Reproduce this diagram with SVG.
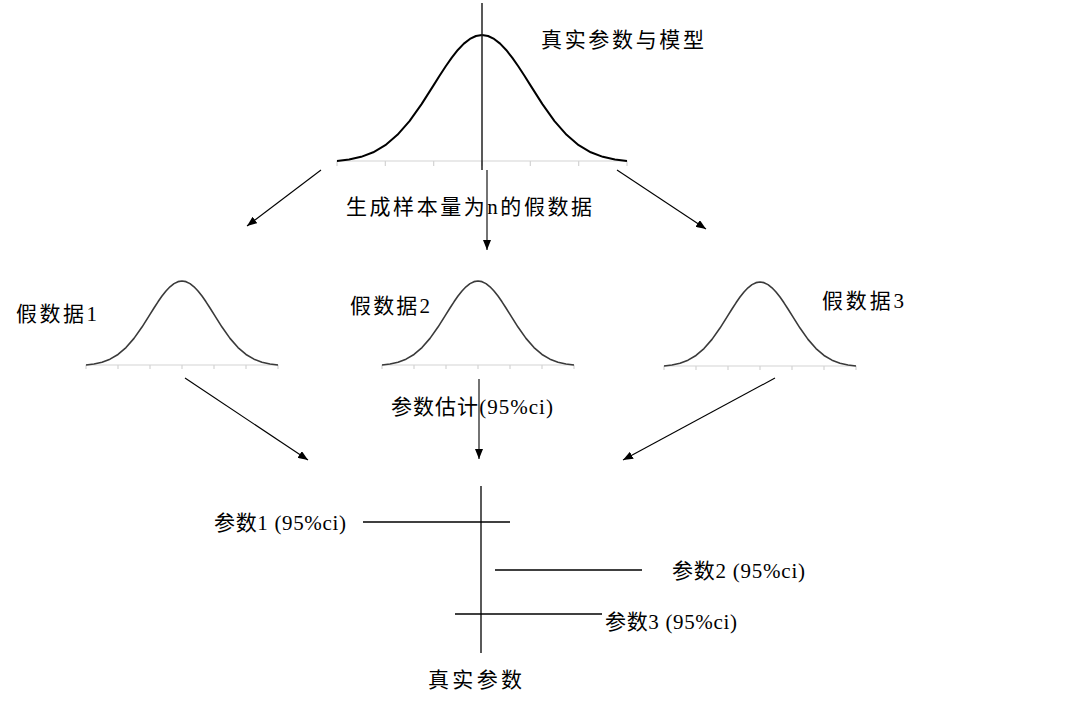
<svg xmlns="http://www.w3.org/2000/svg" xmlns:xlink="http://www.w3.org/1999/xlink" width="1075" height="707" viewBox="0 0 1075 707">
  <style>
    .t { font-family: "Liberation Serif", "Noto Sans CJK SC", serif; font-size: 21px; fill: #000; }
    .axis { stroke: #d4d4d4; stroke-width: 1.2; fill: none; }
    .curve { stroke: #3a3a3a; stroke-width: 1.6; fill: none; stroke-linejoin: round; }
    .curveTop { stroke: #000; stroke-width: 2; fill: none; stroke-linejoin: round; }
    .conn { stroke: #000; stroke-width: 1.1; fill: none; }
    .ln { stroke: #000; stroke-width: 1.3; fill: none; }
  </style>
  <defs>
    <marker id="arr" markerUnits="userSpaceOnUse" viewBox="0 0 10 8" markerWidth="10" markerHeight="8" refX="10" refY="4" orient="auto">
      <path d="M0,0 L10,4 L0,8 z" fill="#000"/>
    </marker>
    <path id="bell" d="M-96,0 L-88,-0.99 L-80,-2.79 L-72,-5.82 L-64,-10.55 L-56,-17.43 L-48,-26.64 L-40,-37.94 L-32,-50.58 L-28,-56.98 L-24,-63.17 L-20,-68.93 L-16,-74.02 L-12,-78.23 L-8,-81.38 L-4,-83.34 L0,-84 L4,-83.34 L8,-81.38 L12,-78.23 L16,-74.02 L20,-68.93 L24,-63.17 L28,-56.98 L32,-50.58 L40,-37.94 L48,-26.64 L56,-17.43 L64,-10.55 L72,-5.82 L80,-2.79 L88,-0.99 L96,0"/>
    <path id="smallAxis" d="M-96,0 H96 M-96,0 v4 M-64,0 v4 M-32,0 v4 M0,0 v4 M32,0 v4 M64,0 v4 M96,0 v4"/>
  </defs>

  <g id="true-model">
    <path class="axis" d="M337,161 H627 M337,161 v5 M385.33,161 v5 M433.67,161 v5 M482,161 v5 M530.33,161 v5 M578.67,161 v5 M627,161 v5"/>
    <path class="curveTop" d="M337,161 L349.08,159.51 L361.17,156.82 L373.25,152.27 L385.33,145.17 L397.42,134.85 L409.5,121.05 L421.58,104.09 L433.67,85.14 L439.71,75.53 L445.75,66.25 L451.79,57.61 L457.83,49.97 L463.88,43.65 L469.92,38.93 L475.96,35.99 L482,35 L488.04,35.99 L494.08,38.93 L500.12,43.65 L506.17,49.97 L512.21,57.61 L518.25,66.25 L524.29,75.53 L530.33,85.14 L542.42,104.09 L554.5,121.05 L566.58,134.85 L578.67,145.17 L590.75,152.27 L602.83,156.82 L614.92,159.51 L627,161"/>
    <line x1="482" y1="3" x2="482" y2="170" stroke="#222" stroke-width="1.5"/>
    <text class="t" x="541" y="47" textLength="163" lengthAdjust="spacing">真实参数与模型</text>
  </g>

  <g id="fake-data-1">
    <use href="#smallAxis" xlink:href="#smallAxis" class="axis" x="182" y="365"/>
    <use href="#bell" xlink:href="#bell" class="curve" x="182" y="365"/>
    <text class="t" x="16" y="321" textLength="81" lengthAdjust="spacing">假数据1</text>
  </g>

  <g id="fake-data-2">
    <use href="#smallAxis" xlink:href="#smallAxis" class="axis" x="478" y="365"/>
    <use href="#bell" xlink:href="#bell" class="curve" x="478" y="365"/>
    <text class="t" x="350" y="313" textLength="80" lengthAdjust="spacing">假数据2</text>
  </g>

  <g id="fake-data-3">
    <use href="#smallAxis" xlink:href="#smallAxis" class="axis" x="760" y="366"/>
    <use href="#bell" xlink:href="#bell" class="curve" x="760" y="366"/>
    <text class="t" x="822" y="308" textLength="82" lengthAdjust="spacing">假数据3</text>
  </g>

  <g id="estimates">
    <line class="ln" x1="481" y1="486" x2="481" y2="653"/>
    <line class="ln" x1="363" y1="522" x2="510" y2="522"/>
    <line class="ln" x1="495" y1="570" x2="642" y2="570"/>
    <line class="ln" x1="455" y1="614" x2="602" y2="614"/>
    <text class="t" x="214" y="530" textLength="132" lengthAdjust="spacing">参数1 (95%ci)</text>
    <text class="t" x="672" y="578" textLength="133" lengthAdjust="spacing">参数2 (95%ci)</text>
    <text class="t" x="605" y="629" textLength="132" lengthAdjust="spacing">参数3 (95%ci)</text>
    <text class="t" x="428" y="687" textLength="94" lengthAdjust="spacing">真实参数</text>
  </g>

  <g id="connectors">
    <line class="conn" x1="321" y1="170" x2="247" y2="226" marker-end="url(#arr)"/>
    <line class="conn" x1="487" y1="170" x2="487" y2="250" marker-end="url(#arr)"/>
    <line class="conn" x1="617" y1="170" x2="706" y2="229" marker-end="url(#arr)"/>
    <line class="conn" x1="185" y1="378" x2="308" y2="460" marker-end="url(#arr)"/>
    <line class="conn" x1="479" y1="379" x2="479" y2="459" marker-end="url(#arr)"/>
    <line class="conn" x1="775" y1="378" x2="623" y2="460" marker-end="url(#arr)"/>
    <text class="t" x="346" y="214" textLength="246" lengthAdjust="spacing">生成样本量为n的假数据</text>
    <text class="t" x="391" y="414" textLength="162" lengthAdjust="spacing">参数估计(95%ci)</text>
  </g>
</svg>
